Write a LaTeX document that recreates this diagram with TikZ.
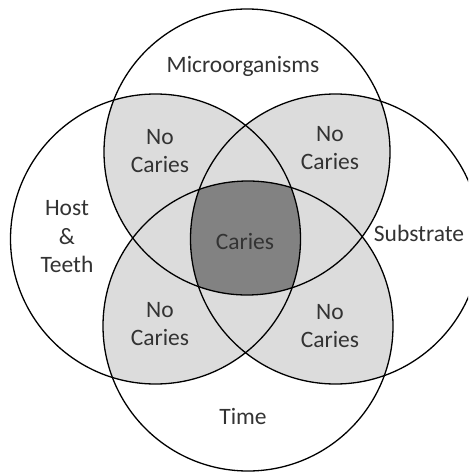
\documentclass[tikz,border=0pt]{standalone}
\usepackage{fontspec}
\setmainfont{Carlito}
\definecolor{lightfill}{HTML}{DCDCDC}
\definecolor{darkfill}{HTML}{828282}
\definecolor{txt}{HTML}{333333}
\begin{document}
\begin{tikzpicture}[x=1pt,y=-1pt,
  lbl/.style={font=\fontsize{23.5}{28.5}\selectfont, text=txt, align=center, inner sep=0pt},
  ring/.style={draw=black, line width=1.3pt}]
\useasboundingbox (0,0) rectangle (468,473);
\clip (0,0) rectangle (468,473);
\fill[white] (0,0) rectangle (468,473);
\def\CT{(247,152) circle (143pt)}
\def\CB{(248,326) circle (145pt)}
\def\CL{(155.5,239) circle (145pt)}
\def\CR{(335.5,239) circle (145pt)}
% pairwise overlaps
\begin{scope}\clip \CT; \fill[lightfill] \CL; \fill[lightfill] \CR; \fill[lightfill] \CB; \end{scope}
\begin{scope}\clip \CL; \fill[lightfill] \CR; \fill[lightfill] \CB; \end{scope}
\begin{scope}\clip \CR; \fill[lightfill] \CB; \end{scope}
% four-way overlap
\begin{scope}\clip \CT; \clip \CL; \clip \CR; \fill[darkfill] \CB; \end{scope}
% outlines
\draw[ring] \CT;
\draw[ring] \CB;
\draw[ring] \CL;
\draw[ring] \CR;
% labels
\node[lbl] (micro) at (243,66) {Microorganisms};
\node[lbl] (host) at (67,237) {Host\\\&\\Teeth};
\node[lbl] (subst) at (419,233) {Substrate};
\node[lbl] (time) at (243,416) {Time};
\node[lbl] (caries) at (245,242) {Caries};
\node[lbl] (nctl) at (160,151) {No\\Caries};
\node[lbl] (nctr) at (330,148) {No\\Caries};
\node[lbl] (ncbl) at (160,324) {No\\Caries};
\node[lbl] (ncbr) at (330,326) {No\\Caries};
\end{tikzpicture}
\end{document}
